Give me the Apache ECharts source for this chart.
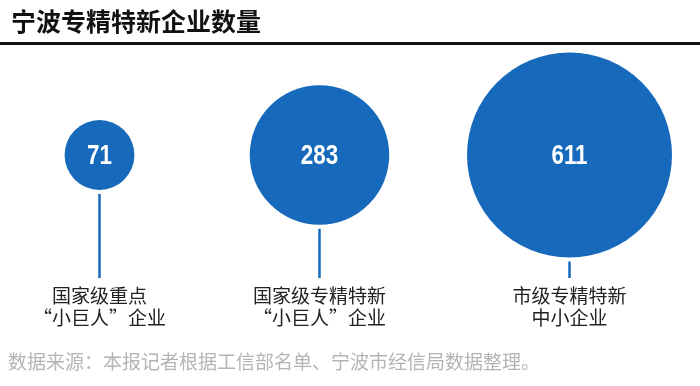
<!DOCTYPE html>
<html><head><meta charset="utf-8">
<script src="https://cdn.jsdelivr.net/npm/echarts@6/dist/echarts.min.js"></script>
<style>html,body{margin:0;padding:0;background:#fff}#c{width:700px;height:386px}</style>
</head><body><div id="c"></div>
<script>
// ---- data ----
const titleText = '宁波专精特新企业数量';
const sourceText = '数据来源：本报记者根据工信部名单、宁波市经信局数据整理。';
const categories = ['国家级重点\n“小巨人”企业', '国家级专精特新\n“小巨人”企业', '市级专精特新\n中小企业'];
const values = [71, 283, 611];

// ---- layout / style ----
const BLUE = '#1769bb';
const CJK = '"Noto Sans CJK SC", "Noto Sans", sans-serif';
const xNudge = [0, -15, 0];
const R_MAX = 102.5;
const maxV = Math.max.apply(null, values);

const chart = echarts.init(document.getElementById('c'), null, {renderer: 'canvas'});
chart.setOption({
  animation: false,
  backgroundColor: '#fff',
  title: {
    text: titleText, left: 6, top: 4,
    textStyle: {fontSize: 25, fontWeight: 'bold', color: '#111', fontFamily: CJK}
  },
  graphic: [
    {type: 'rect', shape: {x: 0, y: 42, width: 700, height: 3}, style: {fill: '#111'}},
    {type: 'text', left: 8, top: 352, style: {text: sourceText, fontSize: 19, fill: '#b4b4b4', fontFamily: CJK}}
  ],
  grid: {left: 99.5, right: 130.5, top: 52, bottom: 128},
  xAxis: {type: 'category', data: categories, boundaryGap: false, show: false},
  yAxis: {type: 'value', show: false, min: 0, max: 1},
  series: [{
    type: 'custom',
    data: values.map(function (v, i) { return [i, v]; }),
    renderItem: function (params, api) {
      const i = params.dataIndex;
      const v = api.value(1);
      const cs = params.coordSys;
      const x = api.coord([i, 0])[0] + xNudge[i];
      const cy = cs.y + cs.height / 2;
      const r = R_MAX * Math.sqrt(v / maxV);
      const bottom = cs.y + cs.height;
      return {
        type: 'group',
        children: [
          {type: 'circle', shape: {cx: x, cy: cy, r: r}, style: {fill: BLUE}},
          {type: 'line', shape: {x1: x, y1: cy + r + 4, x2: x, y2: bottom + 20}, style: {stroke: BLUE, lineWidth: 2.5}},
          {type: 'text', x: x, y: cy + 1, scaleX: 0.8,
            style: {text: String(v), x: 0, y: 0, align: 'center', verticalAlign: 'middle', fill: '#fff',
            fontSize: 28, fontWeight: 'bold', fontFamily: '"Liberation Sans", Arial, sans-serif'}},
          {type: 'text', style: {text: categories[i], x: x, y: bottom + 27, align: 'center', verticalAlign: 'top', fill: '#222',
            fontSize: 19, lineHeight: 22, fontFamily: CJK}}
        ]
      };
    }
  }]
});
</script></body></html>
